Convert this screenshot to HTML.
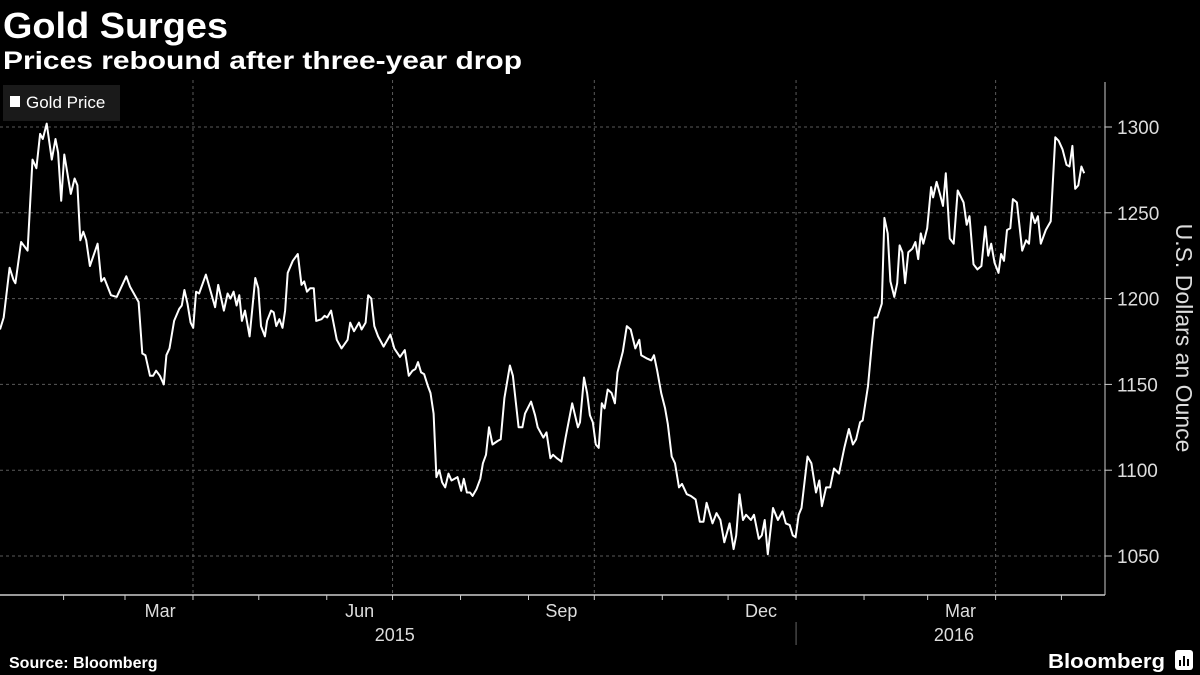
<!DOCTYPE html>
<html><head><meta charset="utf-8"><style>
body{margin:0;background:#000;width:1200px;height:675px;overflow:hidden;font-family:"Liberation Sans",sans-serif}
svg{display:block}
</style></head><body>
<svg id="chart" width="1200" height="675" viewBox="0 0 1200 675" xmlns="http://www.w3.org/2000/svg">
<rect width="1200" height="675" fill="#000"/>
<text x="3" y="38" fill="#fff" font-size="36" font-weight="bold" textLength="225" lengthAdjust="spacingAndGlyphs" font-family="Liberation Sans, sans-serif">Gold Surges</text>
<text x="3" y="69" fill="#fff" font-size="25" font-weight="bold" textLength="519" lengthAdjust="spacingAndGlyphs" font-family="Liberation Sans, sans-serif">Prices rebound after three-year drop</text>
<g id="grid"></g>
<g id="axes"></g>
<g id="series"></g>
<g>
<rect x="3" y="85" width="117" height="36" fill="#1a1a1a"/>
<rect x="10" y="96" width="10" height="11" fill="#fff"/>
<text x="26" y="108" fill="#fff" font-size="17" font-family="Liberation Sans, sans-serif">Gold Price</text>
</g>
<text transform="translate(1176,338) rotate(90)" text-anchor="middle" fill="#ddd" font-size="23" font-family="Liberation Sans, sans-serif">U.S. Dollars an Ounce</text>
<text x="9" y="668" fill="#fff" font-size="16" font-weight="bold" font-family="Liberation Sans, sans-serif">Source: Bloomberg</text>
<text x="1048" y="668" fill="#fff" font-size="20" font-weight="bold" textLength="117" lengthAdjust="spacingAndGlyphs" font-family="Liberation Sans, sans-serif">Bloomberg</text>
<g><rect x="1175" y="650" width="18" height="20" rx="3" fill="#fff"/><rect x="1179" y="660" width="2" height="6" fill="#000"/><rect x="1183" y="656" width="2" height="10" fill="#000"/><rect x="1187" y="659" width="2" height="7" fill="#000"/></g>
</svg>
<script>
const days=[0,1.7,4.4,6.1,7.0,9.6,12.6,14.8,16.6,18.3,19.5,21.3,23.6,25.3,26.5,27.9,29.3,32.3,34.0,35.3,36.6,38.0,39.3,41.0,44.5,46.2,47.5,50.6,53.2,57.6,59.3,63.2,64.9,66.3,68.4,69.8,71.2,72.9,74.7,75.9,77.3,79.4,81.7,82.9,84.1,85.5,86.9,88.1,89.4,90.8,93.9,98.1,99.5,102.1,103.8,105.1,106.5,107.9,109.1,110.3,111.7,113.8,116.4,117.8,119.0,120.8,121.8,123.6,124.8,126.0,127.4,128.8,130.0,131.2,133.5,135.8,137.5,138.7,140.0,141.4,143.1,144.2,146.6,148.0,149.2,151.0,153.6,155.7,158.5,159.7,161.4,163.7,164.9,166.7,167.9,169.3,170.7,172.4,174.9,178.0,179.8,182.4,184.6,186.4,188.1,189.4,190.6,192.0,193.4,195.1,196.3,197.7,199.0,200.3,201.6,203.0,204.5,205.9,208.6,210.3,211.5,212.9,214.3,215.5,217.3,219.0,220.2,221.6,223.0,224.6,226.9,228.3,230.0,232.5,233.9,236.5,238.2,239.4,242.2,244.0,245.2,247.8,249.2,251.0,252.2,253.9,256.0,257.9,260.9,263.5,
264.5,266.3,267.7,269.0,270.3,271.7,273.0,274.4,275.7,277.1,278.9,280.4,281.6,284.0,285.8,287.6,289.7,291.5,292.4,295.2,297.0,298.2,299.7,301.5,303.3,304.5,306.3,307.8,309.6,311.0,313.2,315.0,317.2,319.1,320.8,322.2,324.9,326.7,328.5,330.3,332.7,334.5,335.7,337.2,338.8,340.2,342.4,343.8,346.0,347.4,348.7,350.1,352.5,354.7,356.8,358.3,360.1,361.5,362.8,364.2,365.5,368.2,370.0,372.1,373.6,374.8,376.7,378.5,380.3,382.6,385.0,387.1,388.9,390.4,392.2,393.4,395.8,397.6,398.8,400.1,402.1,403.3,404.8,406.0,407.8,409.1,410.2,411.5,412.7,414.2,416.0,417.4,418.7,419.9,421.0,422.8,424.6,425.5,427.1,428.6,430.0,431.3,433.1,434.9,436.7,439.4,440.8,442.1,443.9,445.7,447.5,449.3,450.6,452.0,453.5,455.3,456.5,457.8,459.2,460.7,461.9,463.7,466.1,467.9,469.2,470.4,471.9,473.3,474.6,476.9,479.1,481.2,482.7,484.5,486.3,487.7,489.0,490.3,491.7,493.1,494.4];
const prices=[1182,1189,1218,1211,1209,1233,1228,1281,1276,1296,1293,1302,1281,1293,1285,1257,1284,1261,1270,1266,1234,1239,1234,1219,1232,1210,1212,1202,1201,1213,1207,1198,1168,1167,1155,1155,1158,1155,1150,1167,1171,1187,1194,1196,1205,1197,1186,1183,1204,1203,1214,1195,1208,1193,1203,1200,1204,1196,1202,1187,1193,1178,1212,1206,1184,1178,1187,1193,1192,1184,1188,1183,1193,1215,1222,1226,1208,1210,1204,1206,1206,1187,1188,1190,1189,1193,1176,1171,1176,1186,1181,1186,1182,1186,1202,1200,1184,1178,1172,1179,1171,1166,1170,1155,1158,1159,1163,1157,1156,1149,1145,1133,1096,1100,1093,1090,1098,1094,1096,1088,1095,1087,1087,1085,1089,1095,1104,1109,1125,1115,1117,1118,1142,1161,1155,1125,1125,1133,1140,1132,1125,1119,1122,1107,1109,1107,1105,1119,1139,1125,
1128,1154,1145,1132,1128,1115,1113,1139,1136,1147,1145,1139,1157,1169,1184,1182,1171,1176,1167,1165,1164,1167,1158,1145,1136,1127,1108,1104,1090,1092,1086,1085,1083,1070,1070,1081,1069,1075,1071,1058,1069,1054,1062,1086,1071,1074,1071,1074,1060,1062,1071,1051,1078,1071,1076,1069,1068,1062,1061,1074,1078,1108,1104,1087,1094,1079,1090,1090,1101,1098,1113,1124,1115,1118,1128,1129,1149,1174,1189,1189,1197,1247,1238,1210,1201,1209,1231,1227,1209,1227,1229,1233,1223,1238,1232,1241,1265,1259,1268,1261,1254,1273,1235,1232,1263,1256,1243,1248,1220,1217,1219,1242,1225,1232,1221,1215,1226,1222,1240,1241,1258,1256,1228,1234,1232,1250,1244,1248,1232,1240,1245,1294,1292,1287,1278,1277,1289,1264,1266,1277,1273];
const yTicks=[1050,1100,1150,1200,1250,1300];
const monthStartDays=[29,57,88,118,149,179,210,241,271,302,332,363,394,423,454,484];
const quarterStartDays=[88,179,271,363,454];
const monthLabels=["Mar","Jun","Sep","Dec","Mar"];
const monthLabelDays=[73,164,256,347,438];
const yearLabels=["2015","2016"];
const yearLabelDays=[180,435];
const yearDividerDays=[363];

const PX_PER_DAY=2.193, PLOT_L=0, PLOT_R=1105, PLOT_T=80, PLOT_B=595;
const xS=d=>PLOT_L+d*PX_PER_DAY;
const yS=v=>127+(1300-v)*(556-127)/250;
const NS="http://www.w3.org/2000/svg";
function mk(tag,attrs,parent){const e=document.createElementNS(NS,tag);for(const k in attrs)e.setAttribute(k,attrs[k]);parent.appendChild(e);return e;}
const grid=document.getElementById('grid'),axes=document.getElementById('axes'),series=document.getElementById('series');

yTicks.forEach(v=>{
  const y=yS(v);
  const g=mk('line',{x1:PLOT_L,x2:PLOT_R,y1:y,y2:y,stroke:'#5a5a5a','stroke-width':1,'stroke-dasharray':'3,3'},grid);
  
  
  const t=mk('line',{x1:PLOT_R,x2:PLOT_R+7,y1:y,y2:y,stroke:'#ccc','stroke-width':1},axes);
  
  
  const l=mk('text',{x:PLOT_R+12,y:y+7,fill:'#ddd','font-size':19},axes);
  l.textContent=v;
  
  
});
quarterStartDays.forEach(d=>{
  const g=mk('line',{x1:xS(d),x2:xS(d),y1:PLOT_T,y2:PLOT_B,stroke:'#5a5a5a','stroke-width':1,'stroke-dasharray':'3,3'},grid);
  
  
});
const yax=mk('line',{x1:PLOT_R,x2:PLOT_R,y1:82,y2:PLOT_B,stroke:'#ccc','stroke-width':1},axes);


const xax=mk('line',{x1:PLOT_L,x2:PLOT_R,y1:PLOT_B,y2:PLOT_B,stroke:'#ccc','stroke-width':1.5},axes);


monthStartDays.forEach(d=>{
  const t=mk('line',{x1:xS(d),x2:xS(d),y1:PLOT_B,y2:PLOT_B+5,stroke:'#ccc','stroke-width':1},axes);
  
  
});
monthLabels.forEach((m,i)=>{
  const l=mk('text',{x:xS(monthLabelDays[i]),y:617,fill:'#ddd','font-size':18,'text-anchor':'middle'},axes);
  l.textContent=m;
  
  
});
yearLabels.forEach((yv,i)=>{
  const l=mk('text',{x:xS(yearLabelDays[i]),y:641,fill:'#ddd','font-size':18,'text-anchor':'middle'},axes);
  l.textContent=yv;
  
  
});
yearDividerDays.forEach(d=>{
  const l=mk('line',{x1:xS(d),x2:xS(d),y1:622,y2:645,stroke:'#666','stroke-width':1},axes);
  
  
});
const pts=days.map((d,i)=>xS(d).toFixed(1)+','+yS(prices[i]).toFixed(1)).join(' ');
const pl=mk('polyline',{points:pts,fill:'none',stroke:'#fff','stroke-width':2,'stroke-linejoin':'round'},series);


</script>
</body></html>
